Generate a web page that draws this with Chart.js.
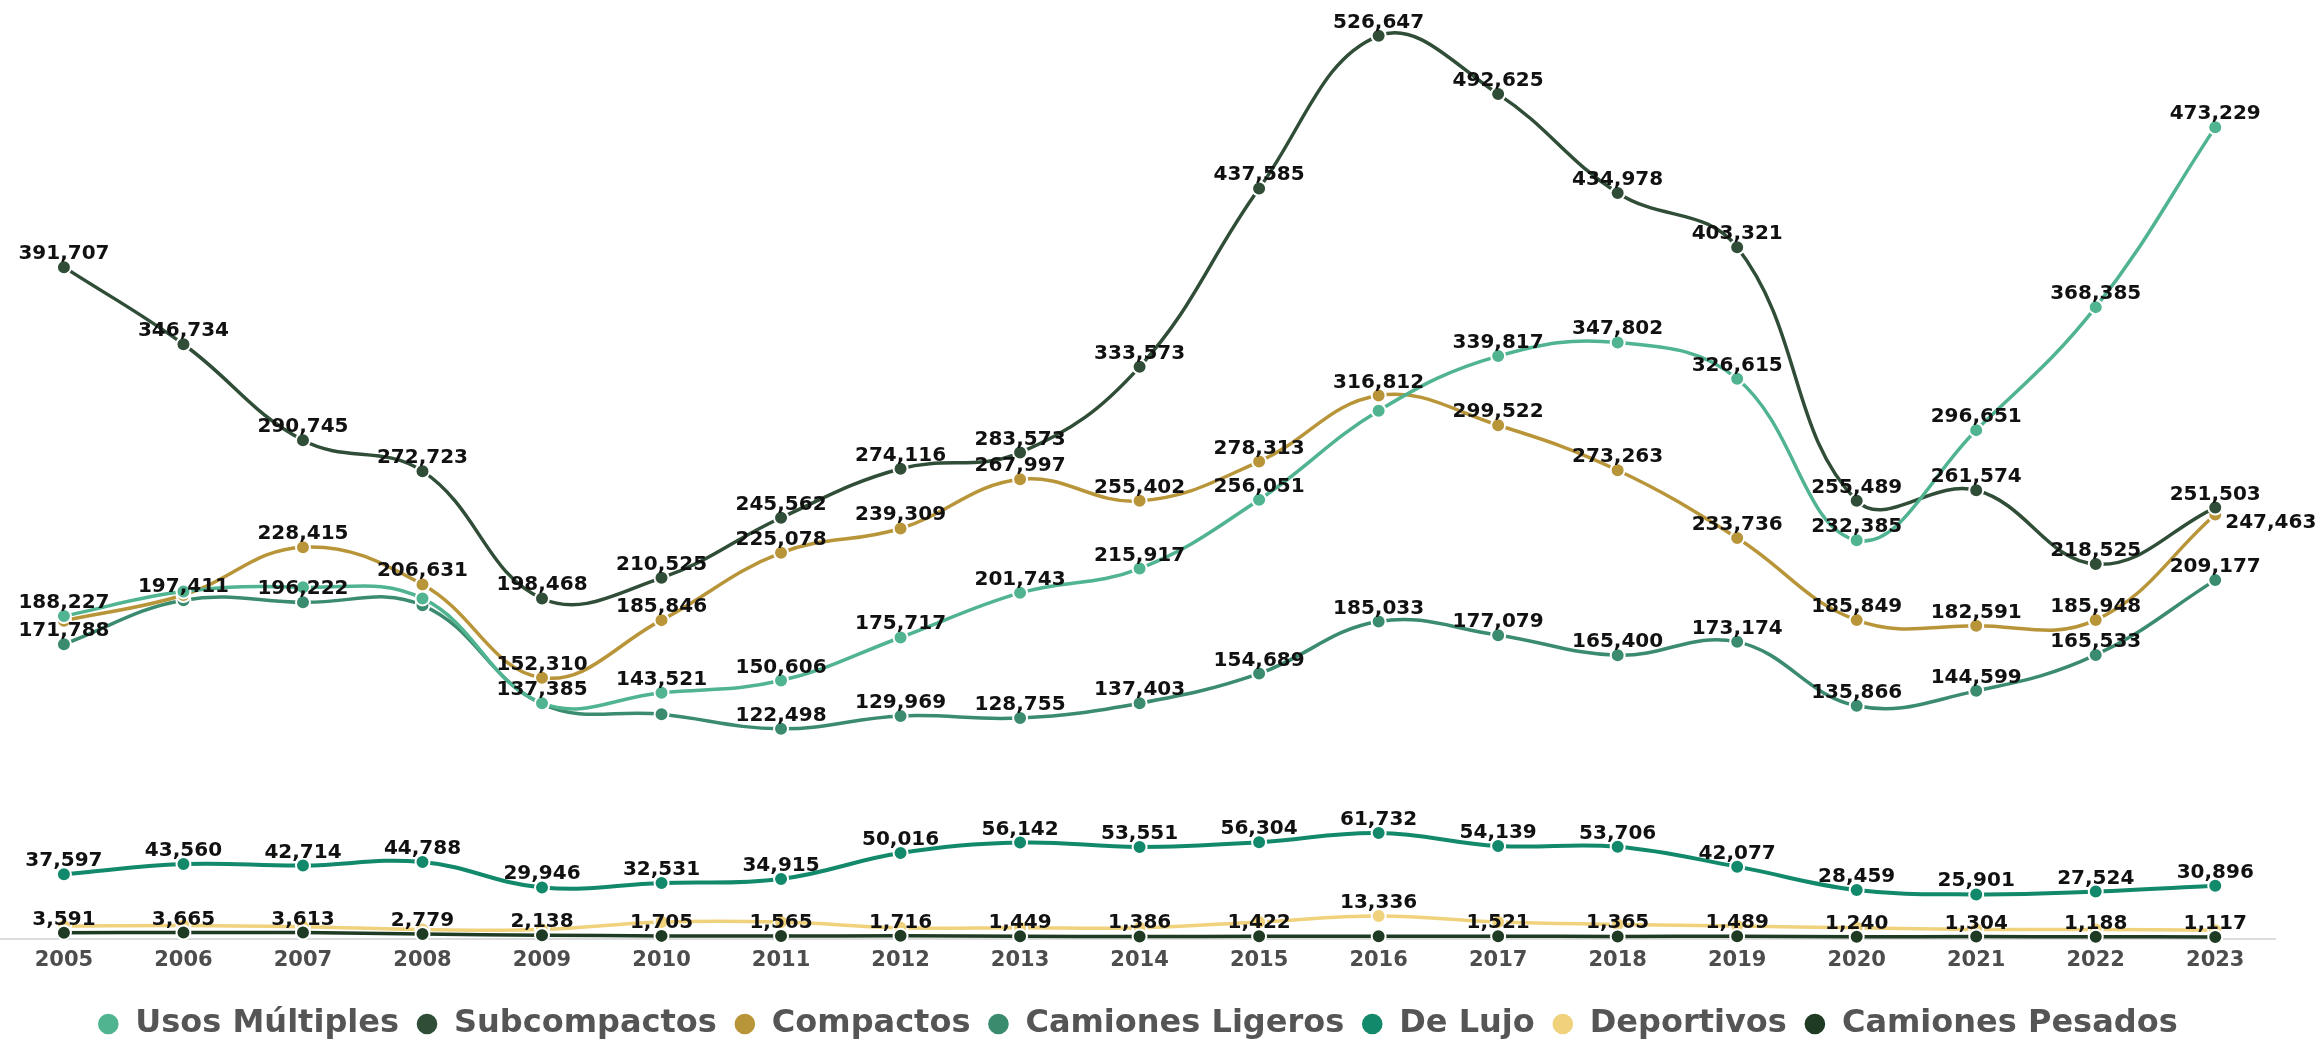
<!DOCTYPE html>
<html>
<head>
<meta charset="utf-8">
<script src="https://cdn.jsdelivr.net/npm/chart.js@4.4.1/dist/chart.umd.min.js"></script>
<style>
  html, body { margin: 0; padding: 0; background: #fff; }
</style>
</head>
<body>
<canvas id="myChart" width="2324" height="1041"></canvas>
<script>
const years = [2005, 2006, 2007, 2008, 2009, 2010, 2011, 2012, 2013, 2014, 2015, 2016, 2017, 2018, 2019, 2020, 2021, 2022, 2023];

const usosMultiples   = [188227, 202500, 205000, 198500, 137385, 143521, 150606, 175717, 201743, 215917, 256051, 308000, 339817, 347802, 326615, 232385, 296651, 368385, 473229];
const subcompactos    = [391707, 346734, 290745, 272723, 198468, 210525, 245562, 274116, 283573, 333573, 437585, 526647, 492625, 434978, 403321, 255489, 261574, 218525, 251503];
const compactos       = [185500, 200500, 228415, 206631, 152310, 185846, 225078, 239309, 267997, 255402, 278313, 316812, 299522, 273263, 233736, 185849, 182591, 185948, 247463];
const camionesLigeros = [171788, 197411, 196222, 194500, 137000, 130900, 122498, 129969, 128755, 137403, 154689, 185033, 177079, 165400, 173174, 135866, 144599, 165533, 209177];
const deLujo          = [37597, 43560, 42714, 44788, 29946, 32531, 34915, 50016, 56142, 53551, 56304, 61732, 54139, 53706, 42077, 28459, 25901, 27524, 30896];
const deportivos      = [7400, 7800, 7000, 5400, 5400, 9800, 9800, 6400, 6400, 6400, 9800, 13336, 9800, 8400, 7400, 6400, 5400, 5400, 5000];
const camionesPesados = [3591, 3665, 3613, 2779, 2138, 1705, 1565, 1716, 1449, 1386, 1422, 1450, 1521, 1365, 1489, 1240, 1304, 1188, 1117];

// labels the infographic leaves out where points overlap
const hiddenLabels = {
  'Usos Múltiples': [1, 2, 3, 11],
  'Compactos': [0, 1],
  'Camiones Ligeros': [3, 4, 5],
  'Deportivos': [0, 1, 2, 3, 4, 5, 6, 7, 8, 9, 10, 12, 13, 14, 15, 16, 17, 18],
  'Camiones Pesados': [11]
};

const FONT = '"DejaVu Sans", "Open Sans", sans-serif';

const makeSet = (label, values, color, extra) => Object.assign({
  label: label,
  data: years.map((x, i) => ({ x: x, y: values[i] })),
  borderColor: color,
  backgroundColor: color,
  pointBackgroundColor: color,
  pointBorderColor: '#fff',
  pointBorderWidth: 2,
  pointRadius: 7,
  pointHoverRadius: 7,
  borderWidth: 3.5,
  tension: 0.4,
  clip: false
}, extra || {});

const valueLabels = {
  id: 'valueLabels',
  afterDatasetsDraw(chart) {
    const ctx = chart.ctx;
    ctx.save();
    ctx.font = 'bold 20px ' + FONT;
    ctx.fillStyle = '#111';
    ctx.textBaseline = 'alphabetic';
    chart.data.datasets.forEach((ds, i) => {
      const meta = chart.getDatasetMeta(i);
      const skip = hiddenLabels[ds.label] || [];
      meta.data.forEach((pt, j) => {
        if (skip.includes(j)) return;
        const txt = ds.data[j].y.toLocaleString('en-US');
        if (ds.label === 'Compactos' && j === years.length - 1) {
          ctx.textAlign = 'left';
          ctx.fillText(txt, pt.x + 10, pt.y + 14);
        } else {
          ctx.textAlign = 'center';
          ctx.fillText(txt, pt.x, pt.y - 8);
        }
      });
    });
    ctx.restore();
  }
};

const ctx = document.getElementById('myChart');
const chart = new Chart(ctx, {
  type: 'line',
  data: {
    datasets: [
      makeSet('Usos Múltiples', usosMultiples, '#4fb48f'),
      makeSet('Subcompactos', subcompactos, '#2f4d37'),
      makeSet('Compactos', compactos, '#b9953a'),
      makeSet('Camiones Ligeros', camionesLigeros, '#3b8b6f'),
      makeSet('De Lujo', deLujo, '#12896b', { borderWidth: 4 }),
      makeSet('Deportivos', deportivos, '#f0d17c'),
      makeSet('Camiones Pesados', camionesPesados, '#1f3b24', { order: -1 })
    ]
  },
  options: {
    responsive: false,
    animation: false,
    devicePixelRatio: 1,
    layout: { autoPadding: false, padding: { left: 0, right: 49, top: 0, bottom: -9 } },
    scales: {
      x: {
        type: 'linear',
        min: 2004.465,
        max: 2023.5,
        grid: { display: false, drawTicks: false },
        border: { display: true, color: '#dcdcdc', width: 2 },
        afterFit: scale => { scale.height += 9; },
        ticks: {
          stepSize: 1,
          includeBounds: false,
          autoSkip: false,
          maxRotation: 0,
          padding: 9,
          color: '#4d4d4d',
          font: { family: FONT, weight: 'bold', size: 21 },
          callback: v => String(v)
        }
      },
      y: { display: false, min: 0, max: 547500 }
    },
    plugins: {
      tooltip: { enabled: false },
      legend: {
        position: 'bottom',
        labels: {
          usePointStyle: true,
          pointStyle: 'circle',
          boxWidth: 22,
          boxHeight: 16,
          padding: 17,
          color: '#555',
          font: { family: FONT, weight: 'bold', size: 32 },
          sort: (a, b) => a.datasetIndex - b.datasetIndex
        }
      }
    }
  },
  plugins: [valueLabels]
});
</script>
</body>
</html>
